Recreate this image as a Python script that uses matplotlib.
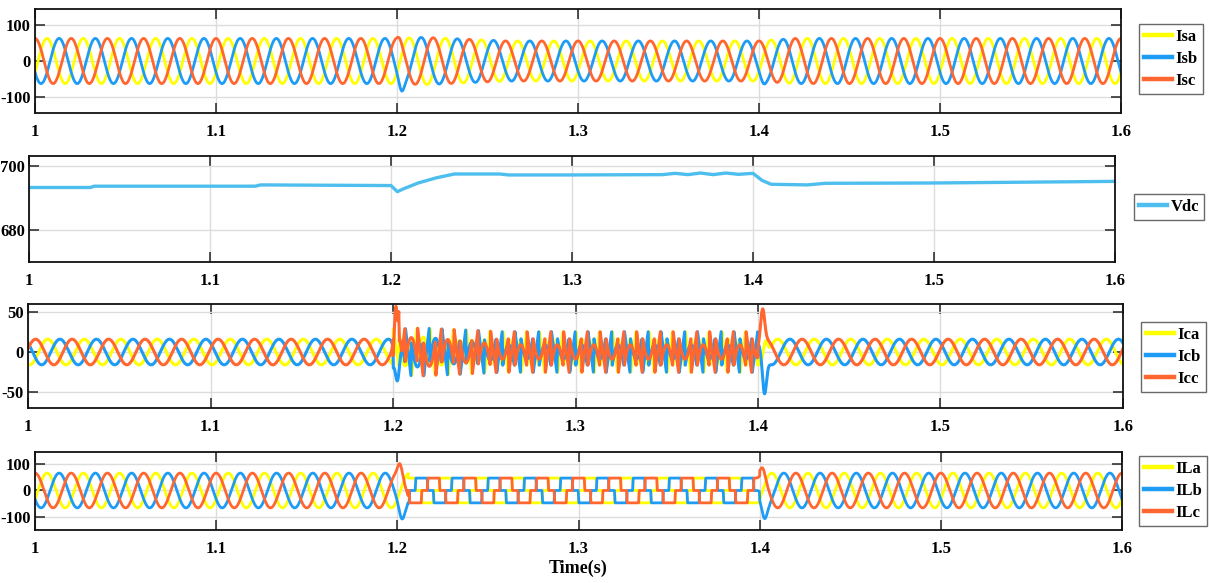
import numpy as np
import matplotlib
matplotlib.use('Agg')
import matplotlib.pyplot as plt

# ------------------------------------------------------------------
# Values
# ------------------------------------------------------------------
f_grid = 50.0                    # Hz, fundamental
t_start, t_end = 1.0, 1.6
t_event_on, t_event_off = 1.2, 1.4   # non-linear load connected / removed

x_ticks = [1.0, 1.1, 1.2, 1.3, 1.4, 1.5, 1.6]
x_tick_labels = ['1', '1.1', '1.2', '1.3', '1.4', '1.5', '1.6']

# Source currents Isa, Isb, Isc : peak amplitude envelope (A) and phases (deg)
is_env_t = [1.0, 1.2, 1.215, 1.26, 1.4, 1.42, 1.6]
is_env_v = [63, 63, 66, 56, 56, 63, 63]
is_phase_deg = [-30, -150, 90]
# Source current transient bumps: (phase index, time, amplitude, width)
is_bumps = [(1, 1.2025, -22, 0.0012), (2, 1.2015, 6, 0.001),
            (1, 1.4025, -8, 0.0012)]

# DC link voltage (V)
vdc_t = [1.0, 1.034, 1.036, 1.125, 1.128, 1.2, 1.2035, 1.207, 1.215, 1.225,
         1.235, 1.26, 1.265, 1.3, 1.35, 1.357, 1.364, 1.371, 1.378, 1.385,
         1.392, 1.4, 1.405, 1.41, 1.43, 1.44, 1.5, 1.6]
vdc_v = [693.2, 693.2, 693.6, 693.6, 694.0, 693.8, 691.9, 692.8, 694.6, 696.2,
         697.4, 697.4, 697.1, 697.1, 697.2, 697.6, 697.2, 697.7, 697.2, 697.7,
         697.3, 697.6, 695.4, 694.2, 694.0, 694.5, 694.6, 695.1]
vdc_yticks = [680, 700]

# Load currents ILa, ILb, ILc
il_amp_lin = 66                  # linear-load peak (A)
il_dc_level = 47                 # rectifier (six-step) level (A)
il_phase_deg = [-30, -150, 90]
il_bumps = [(2, 1.2015, 42, 0.0012), (1, 1.2025, -44, 0.0014),
            (2, 1.4018, 28, 0.0012), (1, 1.4027, -42, 0.0013)]

# Compensating currents Ica, Icb, Icc
ic_amp_lin = 16
ic_phase_deg = [-105, 135, 15]
ic_bumps = [(2, 1.2015, 66, 0.0008), (2, 1.2036, 40, 0.0006),
            (1, 1.2025, -50, 0.0012), (0, 1.2030, 12, 0.0010),
            (2, 1.4025, 40, 0.0011), (1, 1.4035, -47, 0.0011),
            (0, 1.4040, 22, 0.0012)]

labels_is = ['Isa', 'Isb', 'Isc']
labels_ic = ['Ica', 'Icb', 'Icc']
labels_il = ['ILa', 'ILb', 'ILc']
label_vdc = 'Vdc'

colors = ['#FFFF00', '#1E9BF5', '#FF6630']
vdc_color = '#4DBEEE'

# ------------------------------------------------------------------
# Build the waveforms
# ------------------------------------------------------------------
t = np.linspace(t_start, t_end, 60001)
theta = 2 * np.pi * f_grid * (t - t_start)
seg2 = (t >= t_event_on) & (t < t_event_off)


def bump_sum(bumps, k):
    out = np.zeros_like(t)
    for (ph, tc, amp, w) in bumps:
        if ph == k:
            out += amp * np.exp(-0.5 * ((t - tc) / w) ** 2)
    return out


def six_step(ph_rad, level):
    s = np.sin(theta + ph_rad)
    sq = level * ((s > 0.5).astype(float) - (s < -0.5).astype(float))
    win = np.ones(35) / 35.0
    return np.convolve(sq, win, mode='same')


env_is = np.interp(t, is_env_t, is_env_v)
Is, IL, Ic = [], [], []
for k in range(3):
    is_k = env_is * np.sin(theta + np.deg2rad(is_phase_deg[k]))
    il_lin = il_amp_lin * np.sin(theta + np.deg2rad(il_phase_deg[k]))
    il_rect = six_step(np.deg2rad(il_phase_deg[k]), il_dc_level)
    il_k = np.where((t >= t_event_on + 0.006) & (t < t_event_off), il_rect, il_lin)
    ic_lin = ic_amp_lin * np.sin(theta + np.deg2rad(ic_phase_deg[k]))
    ic_k = np.where(seg2, il_rect - is_k, ic_lin)
    Is.append(is_k + bump_sum(is_bumps, k))
    IL.append(il_k + bump_sum(il_bumps, k))
    Ic.append(ic_k + bump_sum(ic_bumps, k))

# ------------------------------------------------------------------
# Figure
# ------------------------------------------------------------------
W, H = 1209, 583
fig = plt.figure(figsize=(W / 100, H / 100), dpi=100)

FONT = 'Liberation Serif'
tick_font = {'family': FONT, 'weight': 'bold', 'size': 12}
leg_prop = {'family': FONT, 'weight': 'bold', 'size': 12}


def px_axes(l, r, top, bot):
    return fig.add_axes([l / W, 1 - bot / H, (r - l) / W, (bot - top) / H])


def style(ax, yticks, ylim):
    ax.set_xlim(t_start, t_end)
    ax.set_ylim(*ylim)
    ax.set_xticks(x_ticks)
    ax.set_xticklabels(x_tick_labels, fontdict=tick_font)
    ax.set_yticks(yticks)
    ax.set_yticklabels([str(v) for v in yticks], fontdict=tick_font)
    ax.tick_params(axis='both', direction='in', length=7, width=1.1,
                   top=True, right=True, colors='#222222', labelcolor='black')
    ax.tick_params(axis='x', pad=8)
    ax.tick_params(axis='y', pad=3)
    ax.grid(True, color='#dcdcdc', linewidth=1.0)
    ax.set_axisbelow(True)
    for sp in ax.spines.values():
        sp.set_linewidth(1.3)
        sp.set_color('#111111')


def legend(ax, handles, labels, left_px, top_px):
    lg = ax.legend(handles, labels, loc='upper left',
                   bbox_to_anchor=(left_px / W, 1 - top_px / H),
                   bbox_transform=fig.transFigure, prop=leg_prop,
                   frameon=True, fancybox=False, borderaxespad=0,
                   handlelength=1.7, handletextpad=0.2, labelspacing=0.35,
                   borderpad=0.3)
    lg.get_frame().set_edgecolor('#444444')
    lg.get_frame().set_linewidth(1.0)
    for ln in lg.get_lines():
        ln.set_linewidth(3.2)


# Panel 1: source currents
ax1 = px_axes(35, 1121, 9, 113)
h1 = [ax1.plot(t, Is[k], color=colors[k], lw=2.0)[0] for k in range(3)]
style(ax1, [-100, 0, 100], (-145, 145))
legend(ax1, h1, labels_is, 1139, 24)

# Panel 2: DC link voltage
ax2 = px_axes(29, 1115, 156, 262)
h2 = ax2.plot(vdc_t, vdc_v, color=vdc_color, lw=2.4)[0]
style(ax2, vdc_yticks, (670, 703))
legend(ax2, [h2], [label_vdc], 1134, 194)

# Panel 3: compensating currents
ax3 = px_axes(28, 1123, 304, 408)
h3 = [ax3.plot(t, Ic[k], color=colors[k], lw=2.2)[0] for k in range(3)]
style(ax3, [-50, 0, 50], (-70, 60))
legend(ax3, h3, labels_ic, 1141, 322)

# Panel 4: load currents
ax4 = px_axes(35, 1122, 452, 530)
h4 = [ax4.plot(t, IL[k], color=colors[k], lw=2.0)[0] for k in range(3)]
style(ax4, [-100, 0, 100], (-150, 146))
legend(ax4, h4, labels_il, 1139, 456)
ax4.set_xlabel('Time(s)', fontdict={'family': FONT, 'weight': 'bold', 'size': 13},
               labelpad=2)

fig.savefig('out.png', dpi=100)
